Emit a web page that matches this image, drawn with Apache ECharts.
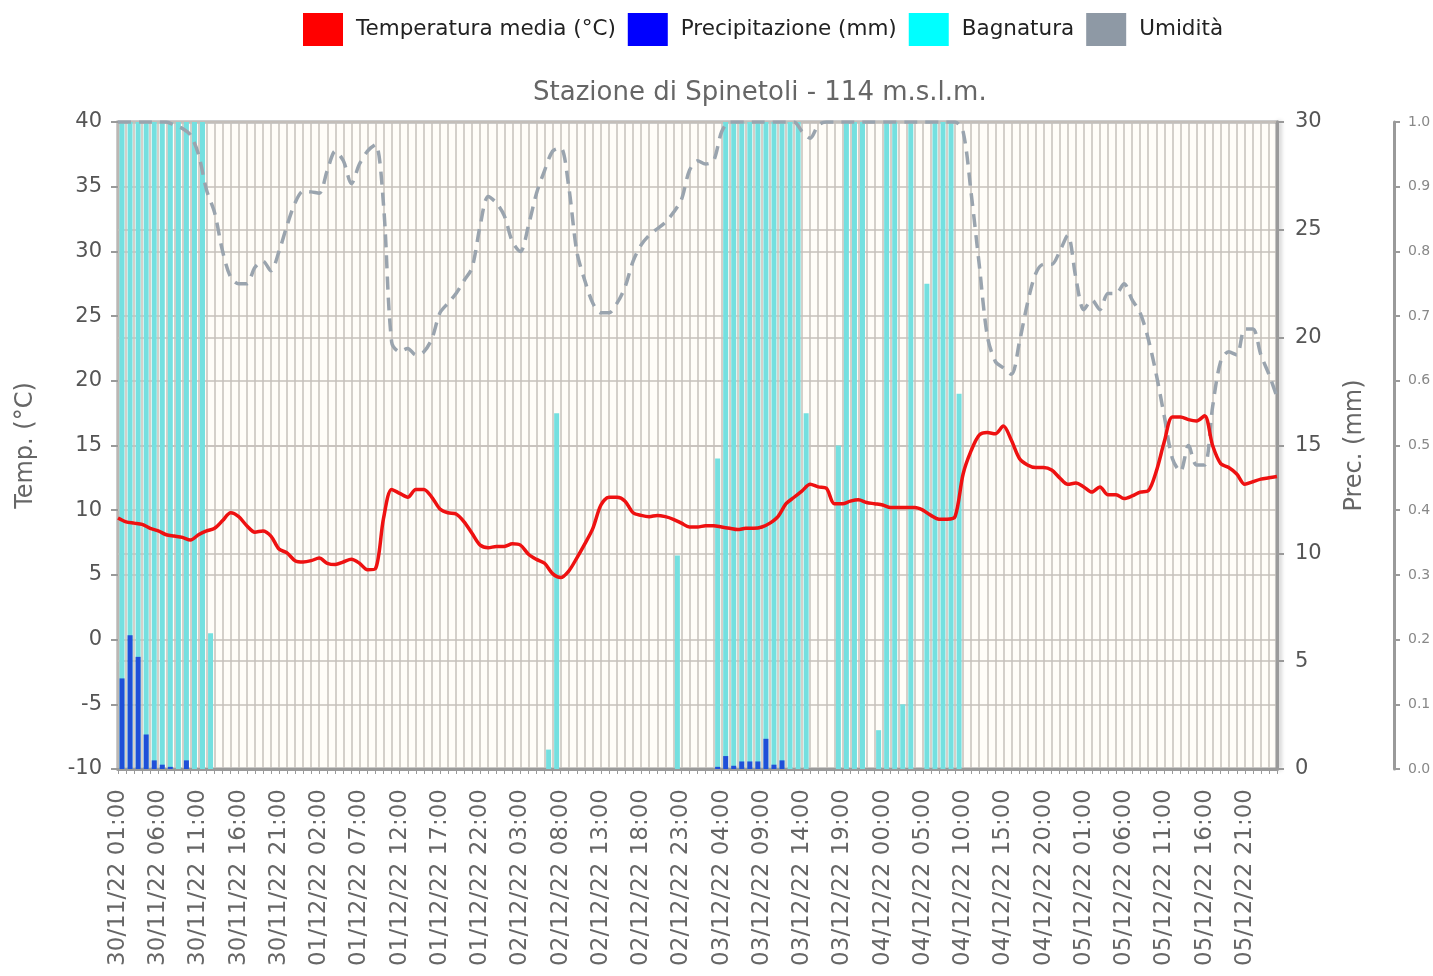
<!DOCTYPE html>
<html lang="it">
<head>
<meta charset="utf-8">
<title>Stazione di Spinetoli</title>
<script src="https://cdn.jsdelivr.net/npm/echarts/dist/echarts.min.js"></script>
<style>
  html, body { margin: 0; padding: 0; background: #fff; }
  #main { width: 1433px; height: 976px; }
</style>
</head>
<body>
<div id="main"></div>
<script type="text/javascript">
// orari: dal 30/11/22 01:00, ogni ora (145 punti)
var hours = [];
var start = new Date(2022, 10, 30, 1, 0, 0);
function pad(n) { return (n < 10 ? '0' : '') + n; }
for (var i = 0; i < 145; i++) {
  var d = new Date(start.getTime() + i * 3600000);
  hours.push(pad(d.getDate()) + '/' + pad(d.getMonth() + 1) + '/22 ' + pad(d.getHours()) + ':00');
}
// le barre sono disegnate tra un'ora e la successiva
var barHours = hours.slice(0, 144);

// temperatura media (°C)
var temp = [
  9.4, 9.1, 9.0, 8.9, 8.6, 8.4, 8.1, 8.0, 7.9, 7.7,
  8.1, 8.4, 8.6, 9.2, 9.8, 9.5, 8.8, 8.3, 8.4, 8.0,
  7.0, 6.7, 6.1, 6.0, 6.1, 6.3, 5.9, 5.8, 6.0, 6.2,
  5.9, 5.4, 5.5, 9.4, 11.6, 11.3, 11.0, 11.6, 11.6, 11.0,
  10.1, 9.8, 9.7, 9.1, 8.2, 7.3, 7.1, 7.2, 7.2, 7.4,
  7.3, 6.6, 6.2, 5.9, 5.1, 4.8, 5.3, 6.3, 7.4, 8.6,
  10.4, 11.0, 11.0, 10.7, 9.8, 9.6, 9.5, 9.6, 9.5, 9.3,
  9.0, 8.7, 8.7, 8.8, 8.8, 8.7, 8.6, 8.5, 8.6, 8.6,
  8.7, 9.0, 9.5, 10.5, 11.0, 11.5, 12.0, 11.8, 11.7, 10.5,
  10.5, 10.7, 10.8, 10.6, 10.5, 10.4, 10.2, 10.2, 10.2, 10.2,
  10.0, 9.6, 9.3, 9.3, 9.5, 12.8, 14.6, 15.8, 16.0, 15.9,
  16.5, 15.4, 14.0, 13.5, 13.3, 13.3, 13.1, 12.5, 12.0, 12.1,
  11.8, 11.4, 11.8, 11.2, 11.2, 10.9, 11.1, 11.4, 11.5, 13.0,
  15.3, 17.2, 17.2, 17.0, 16.9, 17.3, 15.0, 13.6, 13.3, 12.8,
  12.0, 12.2, 12.4, 12.5, 12.6
];

// umidità (0-1)
var umid = [
  1.0, 1.0, 1.0, 1.0, 1.0, 1.0, 1.0, 0.995, 0.99, 0.98,
  0.95, 0.895, 0.86, 0.80, 0.76, 0.75, 0.75, 0.775, 0.785, 0.77,
  0.80, 0.84, 0.875, 0.893, 0.892, 0.89, 0.925, 0.955, 0.94, 0.905,
  0.935, 0.955, 0.965, 0.87, 0.66, 0.645, 0.65, 0.64, 0.645, 0.665,
  0.705, 0.72, 0.735, 0.755, 0.775, 0.84, 0.885, 0.875, 0.855, 0.815,
  0.80, 0.84, 0.89, 0.925, 0.955, 0.96, 0.90, 0.80, 0.755, 0.72,
  0.705, 0.705, 0.72, 0.745, 0.785, 0.81, 0.825, 0.835, 0.845, 0.86,
  0.88, 0.925, 0.94, 0.935, 0.94, 0.985, 1.0, 1.0, 1.0, 1.0,
  1.0, 1.0, 1.0, 1.0, 1.0, 0.985, 0.975, 0.995, 1.0, 1.0,
  1.0, 1.0, 1.0, 1.0, 1.0, 1.0, 1.0, 1.0, 1.0, 1.0,
  1.0, 1.0, 1.0, 1.0, 1.0, 0.985, 0.89, 0.78, 0.67, 0.63,
  0.62, 0.61, 0.66, 0.72, 0.765, 0.78, 0.78, 0.80, 0.825, 0.76,
  0.71, 0.725, 0.71, 0.735, 0.735, 0.75, 0.725, 0.705, 0.665, 0.61,
  0.545, 0.48, 0.46, 0.50, 0.47, 0.47, 0.56, 0.63, 0.645, 0.64,
  0.68, 0.68, 0.64, 0.61, 0.575
];

// bagnatura (frazione dell'ora, 0-1)
var bagn = [
  1, 1, 1, 1, 1, 1, 1, 1, 1, 1, 1, 0.21,
  0, 0, 0, 0, 0, 0, 0, 0, 0, 0, 0, 0,
  0, 0, 0, 0, 0, 0, 0, 0, 0, 0, 0, 0,
  0, 0, 0, 0, 0, 0, 0, 0, 0, 0, 0, 0,
  0, 0, 0, 0, 0, 0.03, 0.55, 0, 0, 0, 0, 0,
  0, 0, 0, 0, 0, 0, 0, 0, 0, 0.33, 0, 0,
  0, 0, 0.48, 1, 1, 1, 1, 1, 1, 1, 1, 1,
  1, 0.55, 0, 0, 0, 0.5, 1, 1, 1, 0, 0.06, 1,
  1, 0.1, 1, 0, 0.75, 1, 1, 1, 0.58, 0, 0, 0,
  0, 0, 0, 0, 0, 0, 0, 0, 0, 0, 0, 0,
  0, 0, 0, 0, 0, 0, 0, 0, 0, 0, 0, 0,
  0, 0, 0, 0, 0, 0, 0, 0, 0, 0, 0, 0
];

// precipitazione (mm)
var prec = [
  4.2, 6.2, 5.2, 1.6, 0.4, 0.2, 0.1, 0, 0.4, 0, 0, 0,
  0, 0, 0, 0, 0, 0, 0, 0, 0, 0, 0, 0,
  0, 0, 0, 0, 0, 0, 0, 0, 0, 0, 0, 0,
  0, 0, 0, 0, 0, 0, 0, 0, 0, 0, 0, 0,
  0, 0, 0, 0, 0, 0, 0, 0, 0, 0, 0, 0,
  0, 0, 0, 0, 0, 0, 0, 0, 0, 0, 0, 0,
  0, 0, 0.1, 0.6, 0.15, 0.35, 0.35, 0.35, 1.4, 0.2, 0.4, 0,
  0, 0, 0, 0, 0, 0, 0, 0, 0, 0, 0, 0,
  0, 0, 0, 0, 0, 0, 0, 0, 0, 0, 0, 0,
  0, 0, 0, 0, 0, 0, 0, 0, 0, 0, 0, 0,
  0, 0, 0, 0, 0, 0, 0, 0, 0, 0, 0, 0,
  0, 0, 0, 0, 0, 0, 0, 0, 0, 0, 0, 0
];

var gridColor = '#c6c1bb';
var font = 'DejaVu Sans';

var myChart = echarts.init(document.getElementById('main'));

var option = {
  backgroundColor: '#ffffff',
  animation: false,
  textStyle: { fontFamily: font },
  title: {
    text: 'Stazione di Spinetoli - 114 m.s.l.m.',
    left: 533,
    top: 80,
    padding: 0,
    textStyle: { color: '#666', fontSize: 26, fontWeight: 'normal', fontFamily: font }
  },
  legend: {
    top: 13,
    left: 303,
    padding: 0,
    icon: 'rect',
    itemWidth: 40,
    itemHeight: 33,
    itemGap: 12,
    textStyle: { color: '#222', fontSize: 21.5, fontFamily: font, padding: [0, 0, 0, 8] },
    data: [
      { name: 'Temperatura media (°C)', itemStyle: { color: '#ff0000', borderWidth: 0 } },
      { name: 'Precipitazione (mm)', itemStyle: { color: '#0000ff', borderWidth: 0 } },
      { name: 'Bagnatura', itemStyle: { color: '#00ffff', borderWidth: 0 } },
      { name: 'Umidità', itemStyle: { color: '#8e99a5', borderWidth: 0 } }
    ]
  },
  grid: {
    left: 118,
    right: 156,
    top: 122,
    bottom: 207,
    show: true,
    backgroundColor: '#fffdf8',
    borderColor: '#9a9a9a',
    borderWidth: 3,
    outerBoundsMode: 'none'
  },
  xAxis: [{
    type: 'category',
    data: hours,
    boundaryGap: false,
    axisLine: { onZero: false, lineStyle: { color: '#9a9a9a', width: 3 } },
    axisTick: { interval: 0, length: 5, lineStyle: { color: '#9a9a9a' } },
    axisLabel: { interval: 4, rotate: 90, margin: 20, color: '#666', fontSize: 23, fontFamily: font },
    splitLine: { show: true, interval: 0, lineStyle: { color: gridColor, width: 1.5 } }
  }, {
    type: 'category',
    data: barHours,
    boundaryGap: true,
    show: false
  }],
  yAxis: [{
    type: 'value',
    min: -10,
    max: 40,
    interval: 5,
    position: 'left',
    name: 'Temp. (°C)',
    nameLocation: 'middle',
    nameRotate: 90,
    nameGap: 80,
    nameTextStyle: { color: '#666', fontSize: 24, fontFamily: font },
    axisLine: { show: false },
    axisTick: { show: true, length: 7, lineStyle: { color: '#9a9a9a', width: 2 } },
    axisLabel: { color: '#555', fontSize: 21, margin: 16, fontFamily: font },
    splitLine: { show: true, lineStyle: { color: gridColor, width: 1.5 } }
  }, {
    type: 'value',
    min: 0,
    max: 30,
    interval: 5,
    position: 'right',
    name: 'Prec. (mm)',
    nameLocation: 'middle',
    nameRotate: 90,
    nameGap: 66,
    nameTextStyle: { color: '#666', fontSize: 24, fontFamily: font },
    axisLine: { show: true, lineStyle: { color: '#9a9a9a', width: 3, shadowBlur: 4, shadowColor: 'rgba(0,0,0,0.25)', shadowOffsetX: 2 } },
    axisTick: { show: true, length: 7, lineStyle: { color: '#9a9a9a', width: 2 } },
    axisLabel: { color: '#555', fontSize: 21, margin: 18, fontFamily: font },
    splitLine: { show: true, lineStyle: { color: gridColor, width: 1.5 } }
  }, {
    type: 'value',
    min: 0,
    max: 1,
    interval: 0.1,
    position: 'right',
    offset: 117,
    axisLine: { show: true, lineStyle: { color: '#9a9a9a', width: 3 } },
    axisTick: { show: true, length: 6, lineStyle: { color: '#9a9a9a', width: 2 } },
    axisLabel: { color: '#888', fontSize: 14, margin: 14, fontFamily: font,
      formatter: function (v) { return v.toFixed(1); } },
    splitLine: { show: false }
  }],
  series: [{
    name: 'Bagnatura',
    type: 'bar',
    xAxisIndex: 1,
    yAxisIndex: 2,
    barWidth: 5,
    barGap: '-100%',
    itemStyle: { color: '#74e0e0' },
    data: bagn
  }, {
    name: 'Precipitazione (mm)',
    type: 'bar',
    xAxisIndex: 1,
    yAxisIndex: 1,
    barWidth: 5,
    barGap: '-100%',
    itemStyle: { color: '#1f4fd8' },
    data: prec
  }, {
    name: 'Umidità',
    type: 'line',
    xAxisIndex: 0,
    yAxisIndex: 2,
    smooth: 0.3,
    showSymbol: false,
    lineStyle: { color: '#9aa4ae', width: 3.5, type: [13, 8] },
    itemStyle: { color: '#8e99a5' },
    data: umid
  }, {
    name: 'Temperatura media (°C)',
    type: 'line',
    xAxisIndex: 0,
    yAxisIndex: 0,
    smooth: 0.3,
    showSymbol: false,
    lineStyle: { color: '#ee1111', width: 3.5 },
    itemStyle: { color: '#ff0000' },
    data: temp
  }]
};

myChart.setOption(option);
</script>
</body>
</html>
